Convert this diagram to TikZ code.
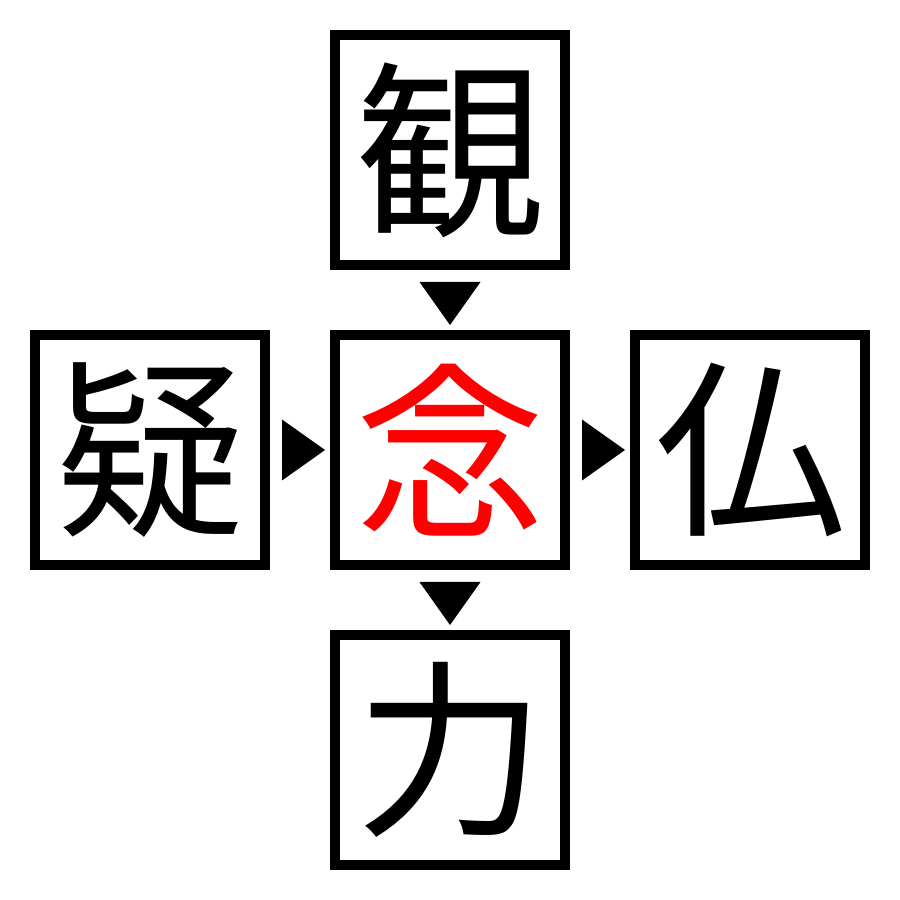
\documentclass[tikz,border=0pt]{standalone}
\usepackage{fontspec}
\newfontfamily\jpfont{Noto Sans CJK JP}
\usetikzlibrary{positioning,calc}
\begin{document}
\begin{tikzpicture}
[x=0.5pt,y=0.5pt,%
  box/.style={draw,line width=5pt,outer sep=2.5pt,minimum size=115pt,inner sep=0pt,%
    font=\jpfont\fontsize{95}{95}\selectfont},%
  pointer/.pic={\fill (0,0) -- (-43,30.5) -- (-43,-30.5) -- cycle;},%
  node distance=30pt]
\useasboundingbox[fill=white] (0,0) rectangle (900,900);
\node[box,text=red] (nen) at (450,450) {念};
\node[box,above=of nen] (kan) {観};
\node[box,left=of nen] (gi) {疑};
\node[box,right=of nen] (butsu) {仏};
\node[box,below=of nen] (riki) {力};
% markers between the boxes
\pic[rotate=-90] at ($(nen.north)+(0,5)$) {pointer};
\pic at ($(nen.west)+(-5,0)$) {pointer};
\pic at ($(butsu.west)+(-5,0)$) {pointer};
\pic[rotate=-90] at ($(riki.north)+(0,5)$) {pointer};
\end{tikzpicture}
\end{document}
